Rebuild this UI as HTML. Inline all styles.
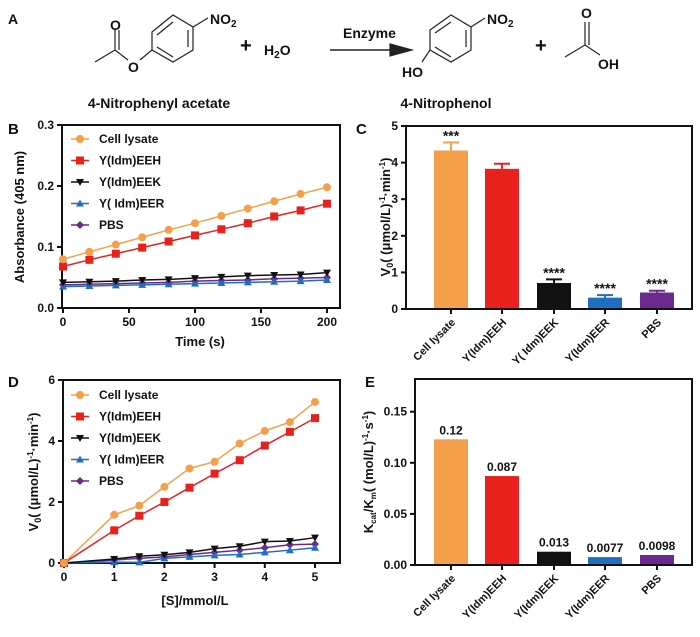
<!DOCTYPE html>
<html><head><meta charset="utf-8"><style>
body{margin:0;background:#fff}
svg{display:block;font-family:"Liberation Sans",Arial,sans-serif}
text{font-weight:bold}
</style></head><body>
<svg id="s" width="700" height="637" viewBox="0 0 700 637">
<g stroke="#222" stroke-width="1.2" fill="none">
<path d="M152,32 L173,15 L193,27 L193,50 L173,62 L152,50 Z M157,35 L173,22 M188,30 L188,47 M157,47 L173,57 M193,27 L208,18 M152,50 L140,60 M128,60 L115,50 L95,62 M115,50 L115,30 M119,50 L119,30"/>
<path d="M430,30 L451,15 L471,27 L471,50 L451,62 L430,50 Z M435,33 L451,22 M466,30 L466,47 M435,47 L451,57 M471,27 L485,18 M430,50 L422,62"/>
<path d="M585,45 L585,22 M589,45 L589,22 M585,45 L565,57 M585,45 L600,55"/>
<path d="M330,50 L400,50" stroke-width="1.5"/>
<path d="M390,44 L412,50 L390,56 Z" fill="#222"/>
</g>
<g font-size="14" fill="#111">
<text x="8" y="24" font-size="14">A</text>
<text x="210" y="24">NO<tspan font-size="10" dy="3">2</tspan></text>
<text x="128" y="72">O</text>
<text x="110" y="30">O</text>
<text x="240" y="52" font-size="20">+</text>
<text x="264" y="55">H<tspan font-size="10" dy="3">2</tspan><tspan dy="-3">O</tspan></text>
<text x="343" y="38">Enzyme</text>
<text x="487" y="24">NO<tspan font-size="10" dy="3">2</tspan></text>
<text x="402" y="77">HO</text>
<text x="535" y="52" font-size="20">+</text>
<text x="581" y="18">O</text>
<text x="598" y="69">OH</text>
<text x="159" y="108" text-anchor="middle">4-Nitrophenyl acetate</text>
<text x="446" y="108" text-anchor="middle">4-Nitrophenol</text>
</g>
</svg>
<script>
const NS="http://www.w3.org/2000/svg";
const svg=document.getElementById('s');
function el(t,a,p){const e=document.createElementNS(NS,t);for(const k in a)e.setAttribute(k,a[k]);(p||svg).appendChild(e);return e;}
function txt(x,y,s,a,p){const e=el('text',Object.assign({x:x,y:y,'font-size':12,fill:'#111'},a||{}),p);e.textContent=s;return e;}

const seriesNames=['Cell lysate','Y(Idm)EEH','Y(Idm)EEK','Y( Idm)EER','PBS'];
const colors=['#f4a04a','#e8201e','#111111','#1f6ec0','#6a2a90'];
const markers=['circle','square','down','up','diamond'];
// Panel B
const timeB=[0,20,40,60,80,100,120,140,160,180,200];
const bLysate=[0.080,0.092,0.104,0.116,0.128,0.139,0.151,0.163,0.175,0.187,0.198];
const bEEH=[0.068,0.079,0.089,0.099,0.109,0.119,0.129,0.139,0.150,0.160,0.171];
const bEEK=[0.042,0.043,0.044,0.046,0.047,0.049,0.051,0.053,0.054,0.055,0.058];
const bEER=[0.035,0.036,0.037,0.038,0.039,0.040,0.041,0.042,0.043,0.044,0.046];
const bPBS=[0.038,0.039,0.040,0.041,0.042,0.044,0.045,0.046,0.048,0.049,0.050];
const bXTicks=[0,50,100,150,200];
const bYTicks=[0.0,0.1,0.2,0.3];
// Panel C
const barCats=['Cell lysate','Y(Idm)EEH','Y( Idm)EEK','Y(Idm)EER','PBS'];
const cVals=[4.33,3.83,0.71,0.31,0.45];
const cErr=[0.22,0.14,0.10,0.07,0.05];
const cStars=['***','','****','****','****'];
const cYTicks=[0,1,2,3,4,5];
// Panel D
const subD=[0,1,1.5,2,2.5,3,3.5,4,4.5,5];
const dLysate=[0,1.58,1.88,2.50,3.10,3.32,3.92,4.33,4.62,5.28];
const dEEH=[0,1.07,1.55,2.00,2.47,2.93,3.37,3.85,4.30,4.75];
const dEEK=[0,0.13,0.22,0.27,0.35,0.47,0.55,0.70,0.72,0.83];
const dEER=[0,0.03,0.02,0.15,0.20,0.25,0.28,0.35,0.42,0.50];
const dPBS=[0,0.10,0.15,0.20,0.28,0.35,0.42,0.50,0.60,0.62];
const dXTicks=[0,1,2,3,4,5];
const dYTicks=[0,2,4,6];
// Panel E
const eCats=['Cell lysate','Y(Idm)EEH','Y(Idm)EEK','Y(Idm)EER','PBS'];
const eVals=[0.123,0.087,0.013,0.0077,0.0098];
const eLabels=['0.12','0.087','0.013','0.0077','0.0098'];
const eYTicks=[0,0.05,0.10,0.15];
const eTickLabels=['0.00','0.05','0.10','0.15'];

function marker(g,type,x,y,c,r){
  r=r||4;let m;
  if(type==='circle')m=el('circle',{cx:x,cy:y,r:r,fill:c},g);
  else if(type==='square')m=el('rect',{x:x-r,y:y-r,width:2*r,height:2*r,fill:c},g);
  else if(type==='down')m=el('path',{d:`M${x-r},${y-r+1}L${x+r},${y-r+1}L${x},${y+r}Z`,fill:c},g);
  else if(type==='up')m=el('path',{d:`M${x-r},${y+r-1}L${x+r},${y+r-1}L${x},${y-r}Z`,fill:c},g);
  else m=el('path',{d:`M${x},${y-r}L${x+r},${y}L${x},${y+r}L${x-r},${y}Z`,fill:c},g);
  
  
  return m;
}
function frame(g,L,T,R,B){
  const f=el('rect',{x:L,y:T,width:R-L,height:B-T,fill:'none',stroke:'#111','stroke-width':2},g);
  
  
}
function yAxis(g,ticks,labels,sy,L){
  ticks.forEach((t,i)=>{
    el('line',{x1:L-5,x2:L,y1:sy(t),y2:sy(t),stroke:'#111','stroke-width':2},g);
    const tl=txt(L-8,sy(t)+4,labels[i],{'text-anchor':'end','font-size':12},g);
    
    
  });
}
function legend(g,x,y0){
  seriesNames.forEach((n,i)=>{
    const y=y0+i*21.5;
    const lg=el('g',{},g);
    
    
    el('line',{x1:x-9,x2:x+9,y1:y,y2:y,stroke:colors[i],'stroke-width':1.5},lg);
    marker(lg,markers[i],x,y,colors[i],4);
    txt(x+19,y+4,n,{'font-size':12},lg);
  });
}
function lineChart(name,xs,series,sx,sy){
  const g=el('g',{});
  
  
  series.slice().reverse().forEach((vals,ri)=>{
    const i=series.length-1-ri;
    const sg=el('g',{},g);
    
    
    const pts=xs.map((x,j)=>sx(x)+','+sy(vals[j])).join(' ');
    const pl=el('polyline',{points:pts,fill:'none',stroke:colors[i],'stroke-width':1.5},sg);
    
    
    xs.forEach((x,j)=>marker(sg,markers[i],sx(x),sy(vals[j]),colors[i],4));
  });
  return g;
}

// ---- Panel B
(function(){
  const L=62,T=125,R=340,B=308;
  const sx=v=>63+(v-0)*(327-63)/200, sy=v=>308-v*(308-125)/0.3;
  const g=el('g',{});
  
  
  txt(8,134,'B',{'font-size':15},g);
  lineChart('panel-b-lines',timeB,[bLysate,bEEH,bEEK,bEER,bPBS],sx,sy);
  frame(g,L,T,R,B);
  yAxis(g,bYTicks,bYTicks.map(v=>v.toFixed(1)),sy,L);
  bXTicks.forEach(t=>{el('line',{x1:sx(t),x2:sx(t),y1:B,y2:B+5,stroke:'#111','stroke-width':2},g);
    const tl=txt(sx(t),B+18,String(t),{'text-anchor':'middle'},g);
    
    });
  const xt=txt(200,346,'Time (s)',{'text-anchor':'middle','font-size':13},g);
  
  
  const yt=txt(0,0,'Absorbance (405 nm)',{'text-anchor':'middle','font-size':13,transform:'translate(24,217) rotate(-90)'},g);
  
  
  legend(g,80,139);
})();

// ---- Panel D
(function(){
  const L=63,T=380,R=340,B=563;
  const sx=v=>64+v*(315-64)/5, sy=v=>563-v*(563-380)/6;
  const g=el('g',{});
  
  
  txt(8,387,'D',{'font-size':15},g);
  lineChart('panel-d-lines',subD,[dLysate,dEEH,dEEK,dEER,dPBS],sx,sy);
  frame(g,L,T,R,B);
  yAxis(g,dYTicks,dYTicks.map(String),sy,L);
  dXTicks.forEach(t=>{el('line',{x1:sx(t),x2:sx(t),y1:B,y2:B+5,stroke:'#111','stroke-width':2},g);
    const tl=txt(sx(t),B+18,String(t),{'text-anchor':'middle'},g);
    
    });
  const xt=txt(195,605,'[S]/mmol/L',{'text-anchor':'middle','font-size':13},g);
  
  
  const yt=el('text',{'text-anchor':'middle','font-size':13,fill:'#111',transform:'translate(38,472) rotate(-90)'},g);
  yt.innerHTML='V<tspan font-size="9" dy="3">0</tspan><tspan dy="-3">( (μmol/L)</tspan><tspan font-size="8" dy="-5">-1</tspan><tspan dy="5">·min</tspan><tspan font-size="8" dy="-5">-1</tspan><tspan dy="5">)</tspan>';
  
  
  legend(g,80,395);
})();

function barChart(name,letter,ly,cats,vals,errs,tops,ticks,tlabels,ymax,L,T,R,B,ytitle,ytx,yty){
  const centers=[451,502,554,605,657], bw=34;
  const sy=v=>B-v*(B-T)/ymax;
  const g=el('g',{});
  
  
  txt(L-50,ly,letter,{'font-size':15},g);
  cats.forEach((c,i)=>{
    const cx=centers[i];
    if(errs){
      const e=el('path',{d:`M${cx},${sy(vals[i])}L${cx},${sy(vals[i]+errs[i])}M${cx-8},${sy(vals[i]+errs[i])}L${cx+8},${sy(vals[i]+errs[i])}`,stroke:colors[i],'stroke-width':2,fill:'none'},g);
      
      
    }
    const r=el('rect',{x:cx-bw/2,y:sy(vals[i]),width:bw,height:B-sy(vals[i]),fill:colors[i]},g);
    
    
    if(tops[i]){
      const top=errs?vals[i]+errs[i]:vals[i];
      const t=txt(cx,sy(top)-(errs?2:5),tops[i],{'text-anchor':'middle','font-size':errs?14:12},g);
      
      
    }
    el('line',{x1:cx,x2:cx,y1:B,y2:B+5,stroke:'#111','stroke-width':2},g);
    const xl=txt(0,0,c,{'text-anchor':'end','font-size':11,transform:`translate(${cx+5},${B+14}) rotate(-45)`},g);
    
    
  });
  frame(g,L,T,R,B);
  yAxis(g,ticks,tlabels,sy,L);
  const yt=el('text',{'text-anchor':'middle','font-size':13,fill:'#111',transform:`translate(${ytx},${yty}) rotate(-90)`},g);
  yt.innerHTML=ytitle;
  
  
}
barChart('panel-c','C',134,barCats,cVals,cErr,cStars,cYTicks,cYTicks.map(String),5,406,126,692,309,
 'V<tspan font-size="9" dy="3">0</tspan><tspan dy="-3">( (μmol/L)</tspan><tspan font-size="8" dy="-5">-1</tspan><tspan dy="5">·min</tspan><tspan font-size="8" dy="-5">-1</tspan><tspan dy="5">)</tspan>',390,217);
barChart('panel-e','E',387,eCats,eVals,null,eLabels,eYTicks,eTickLabels,0.182,415,379,692,565,
 'K<tspan font-size="8" dy="3">cat</tspan><tspan dy="-3">/K</tspan><tspan font-size="8" dy="3">m</tspan><tspan dy="-3">( (mol/L)</tspan><tspan font-size="8" dy="-5">-1</tspan><tspan dy="5">·s</tspan><tspan font-size="8" dy="-5">-1</tspan><tspan dy="5">)</tspan>',373,472);
</script>
</body></html>
